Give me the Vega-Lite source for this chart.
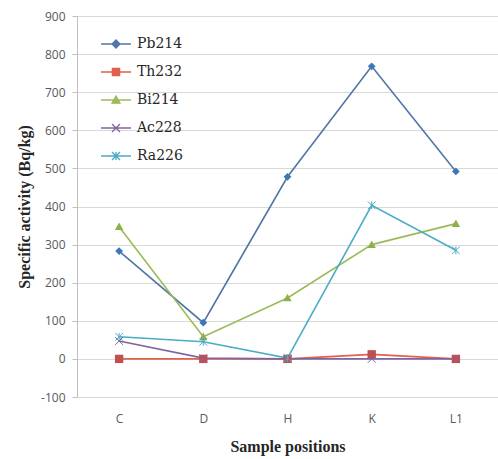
{
  "$schema": "https://vega.github.io/schema/vega-lite/v6.json",
  "width": 421,
  "height": 381,
  "autosize": {"type": "none"},
  "padding": {"left": 77, "top": 16, "right": 0, "bottom": 62},
  "background": "white",
  "config": {
    "view": {"stroke": null},
    "axis": {"gridColor": "#D9D9D9", "gridWidth": 1, "domainColor": "#BFBFBF", "tickColor": "#BFBFBF"}
  },
  "data": {
    "values": [
      {"Position": "C", "Series": "Pb214", "Value": 283},
      {"Position": "D", "Series": "Pb214", "Value": 95},
      {"Position": "H", "Series": "Pb214", "Value": 478},
      {"Position": "K", "Series": "Pb214", "Value": 768},
      {"Position": "L1", "Series": "Pb214", "Value": 492},
      {"Position": "C", "Series": "Th232", "Value": 0},
      {"Position": "D", "Series": "Th232", "Value": 0},
      {"Position": "H", "Series": "Th232", "Value": 0},
      {"Position": "K", "Series": "Th232", "Value": 12},
      {"Position": "L1", "Series": "Th232", "Value": 0},
      {"Position": "C", "Series": "Bi214", "Value": 347},
      {"Position": "D", "Series": "Bi214", "Value": 58},
      {"Position": "H", "Series": "Bi214", "Value": 160},
      {"Position": "K", "Series": "Bi214", "Value": 300},
      {"Position": "L1", "Series": "Bi214", "Value": 355},
      {"Position": "C", "Series": "Ac228", "Value": 47},
      {"Position": "D", "Series": "Ac228", "Value": 2},
      {"Position": "H", "Series": "Ac228", "Value": 0},
      {"Position": "K", "Series": "Ac228", "Value": 0},
      {"Position": "L1", "Series": "Ac228", "Value": 0},
      {"Position": "C", "Series": "Ra226", "Value": 58},
      {"Position": "D", "Series": "Ra226", "Value": 45},
      {"Position": "H", "Series": "Ra226", "Value": 2},
      {"Position": "K", "Series": "Ra226", "Value": 403},
      {"Position": "L1", "Series": "Ra226", "Value": 285}
    ]
  },
  "encoding": {
    "x": {
      "field": "Position", "type": "nominal", "sort": ["C", "D", "H", "K", "L1"],
      "scale": {"type": "point", "padding": 0.5},
      "axis": {
        "title": "Sample positions", "labelAngle": 0, "domain": false, "ticks": false, "grid": false,
        "labelFont": "Open Sans", "labelFontSize": 12, "labelColor": "#595959", "labelPadding": 16,
        "titleFont": "Liberation Serif", "titleFontSize": 16, "titleFontWeight": "bold", "titleColor": "#262626", "titlePadding": 14
      }
    },
    "y": {
      "field": "Value", "type": "quantitative",
      "scale": {"domain": [-100, 900], "nice": false, "zero": false},
      "axis": {
        "title": "Specific activity (Bq/kg)", "values": [-100, 0, 100, 200, 300, 400, 500, 600, 700, 800, 900],
        "labelExpr": "replace(datum.label, '−', '-')",
        "tickSize": 5, "labelPadding": 7,
        "labelFont": "Open Sans", "labelFontSize": 12, "labelColor": "#595959",
        "titleFont": "Liberation Serif", "titleFontSize": 16, "titleFontWeight": "bold", "titleColor": "#262626", "titlePadding": 8
      }
    }
  },
  "layer": [
    {
      "mark": {"type": "line", "strokeWidth": 1.6},
      "encoding": {
        "color": {
          "field": "Series", "type": "nominal",
          "scale": {"domain": ["Pb214", "Th232", "Bi214", "Ac228", "Ra226"], "range": ["#5076A6", "#E0604E", "#9BBB59", "#8064A2", "#4BACC6"]},
          "legend": {
            "title": null, "orient": "none", "legendX": 32, "legendY": 21, "padding": 0,
            "labelFont": "DejaVu Serif", "labelFontSize": 14, "labelColor": "#262626", "labelOffset": 14,
            "rowPadding": 14, "symbolSize": 64, "symbolType": "circle",
            "encode": {
              "symbols": {
                "update": {
                  "shape": {"signal": "datum.value == 'Pb214' ? 'M-3.75,0H3.75M0,-1L1,0L0,1L-1,0Z' : datum.value == 'Th232' ? 'M-3.75,0H3.75M-0.9,-0.9H0.9V0.9H-0.9Z' : datum.value == 'Bi214' ? 'M-3.75,0H3.75M0,-1L1,0.8H-1Z' : datum.value == 'Ac228' ? 'M-3.75,0H3.75M-1,-1L1,1M1,-1L-1,1' : 'M-3.75,0H3.75M-1,-1L1,1M1,-1L-1,1M0,-1V1'"},
                  "fill": {"scale": "color", "field": "value"},
                  "stroke": {"scale": "color", "field": "value"},
                  "strokeWidth": {"value": 1.3},
                  "opacity": {"value": 1}
                }
              }
            }
          }
        }
      }
    },
    {
      "transform": [{"filter": "datum.Series == 'Pb214'"}],
      "mark": {"type": "point", "shape": "diamond", "filled": true, "opacity": 1, "size": 60, "color": "#3C78B5"}
    },
    {
      "transform": [{"filter": "datum.Series == 'Th232'"}],
      "mark": {"type": "point", "shape": "square", "filled": true, "opacity": 1, "size": 70, "color": "#C0504D"}
    },
    {
      "transform": [{"filter": "datum.Series == 'Bi214'"}],
      "mark": {"type": "point", "shape": "M0,-1L1,0.8H-1Z", "filled": true, "opacity": 1, "size": 70, "color": "#8EB04A"}
    },
    {
      "transform": [{"filter": "datum.Series == 'Ac228'"}],
      "mark": {"type": "point", "shape": "M-1,-1L1,1M1,-1L-1,1", "filled": false, "opacity": 1, "size": 60, "strokeWidth": 1, "color": "#8064A2"}
    },
    {
      "transform": [{"filter": "datum.Series == 'Ra226'"}],
      "mark": {"type": "point", "shape": "M-1,-1L1,1M1,-1L-1,1M0,-1L0,1", "filled": false, "opacity": 1, "size": 60, "strokeWidth": 1, "color": "#4BACC6"}
    }
  ]
}
